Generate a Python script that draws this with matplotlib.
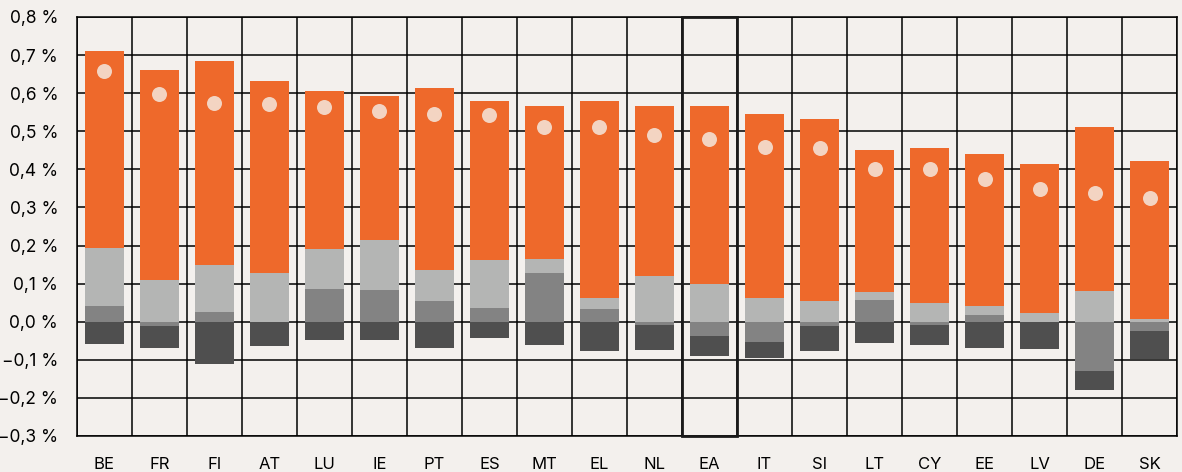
import numpy as np
import matplotlib
matplotlib.use("Agg")
import matplotlib.pyplot as plt
from matplotlib.patches import Rectangle

plt.rcParams["font.family"] = ["Inter", "DejaVu Sans"]

countries = ["BE", "FR", "FI", "AT", "LU", "IE", "PT", "ES", "MT", "EL",
             "NL", "EA", "IT", "SI", "LT", "CY", "EE", "LV", "DE", "SK"]

# components (percentage points), stacked from zero
medium = [0.041, -0.011, 0.025, 0.000, 0.086, 0.083, 0.054, 0.036, 0.128, 0.033,
          -0.008, -0.037, -0.053, -0.011, 0.057, -0.008, 0.018, 0.000, -0.129, -0.024]
light = [0.153, 0.109, 0.123, 0.128, 0.104, 0.131, 0.081, 0.125, 0.036, 0.029,
         0.120, 0.099, 0.062, 0.054, 0.021, 0.049, 0.023, 0.023, 0.080, 0.007]
orange = [0.517, 0.552, 0.537, 0.505, 0.417, 0.379, 0.479, 0.418, 0.403, 0.518,
          0.447, 0.468, 0.484, 0.479, 0.374, 0.408, 0.398, 0.392, 0.432, 0.414]
dark = [-0.058, -0.057, -0.110, -0.065, -0.047, -0.047, -0.070, -0.042, -0.060, -0.078,
        -0.066, -0.053, -0.041, -0.067, -0.056, -0.053, -0.068, -0.071, -0.049, -0.075]
total = [0.658, 0.598, 0.575, 0.571, 0.563, 0.552, 0.545, 0.543, 0.510, 0.510,
         0.490, 0.479, 0.459, 0.456, 0.400, 0.400, 0.374, 0.348, 0.337, 0.324]

highlight = "EA"

BG = "#f3f0ed"
colors = {"medium": "#838383", "light": "#b4b5b4", "orange": "#ee692b", "dark": "#4f4f4f"}

fig = plt.figure(figsize=(11.82, 4.72), dpi=100, facecolor=BG)
ax = fig.add_axes([0.0651, 0.0763, 0.9307, 0.8877], facecolor=BG)

x = np.arange(len(countries))
pos_bottom = np.zeros(len(x))
neg_bottom = np.zeros(len(x))
for key, vals in [("medium", medium), ("light", light), ("orange", orange), ("dark", dark)]:
    v = np.array(vals)
    bottom = np.where(v >= 0, pos_bottom, neg_bottom)
    ax.bar(x, v, width=0.7, bottom=bottom, color=colors[key], linewidth=0, zorder=2)
    pos_bottom = np.where(v >= 0, pos_bottom + v, pos_bottom)
    neg_bottom = np.where(v < 0, neg_bottom + v, neg_bottom)

ax.plot(x, total, "o", color="#f3d4c2", markersize=10.8, markeredgewidth=0, zorder=3)

ax.set_xlim(-0.5, len(x) - 0.5)
ax.set_ylim(-0.3, 0.8)
yt = np.arange(-0.3, 0.81, 0.1)
ax.set_yticks(yt)
ax.set_yticklabels([f"{v:.1f} %".replace(".", ",").replace("-", "\u2212") for v in yt],
                   fontsize=12.5)
ax.set_xticks(x)
ax.set_xticklabels(countries, fontsize=12)
ax.set_xticks(np.arange(-0.5, len(x), 1.0), minor=True)
ax.tick_params(axis="both", which="both", length=0)
ax.tick_params(axis="y", pad=13.5)
ax.tick_params(axis="x", pad=15)

ax.grid(axis="y", which="major", color="black", linewidth=1.1, zorder=0)
ax.grid(axis="x", which="minor", color="black", linewidth=1.1, zorder=0)
ax.grid(axis="x", which="major", visible=False)
ax.set_axisbelow(True)
for s in ax.spines.values():
    s.set_linewidth(1.1)
    s.set_color("black")

i = countries.index(highlight)
ax.add_patch(Rectangle((i - 0.5, -0.3), 1.0, 1.1, fill=False, edgecolor="#1a1a1a",
                       linewidth=2.0, zorder=4, clip_on=False))

fig.savefig("out.png", dpi=100, facecolor=BG)
